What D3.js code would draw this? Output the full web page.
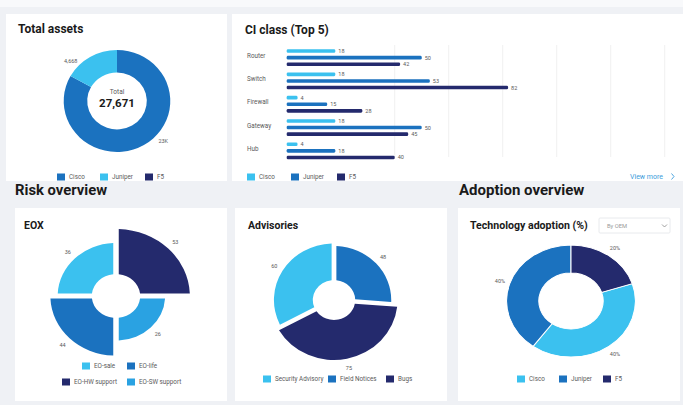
<!DOCTYPE html>
<html>
<head>
<meta charset="utf-8">
<script src="https://cdn.jsdelivr.net/npm/d3@7"></script>
<style>
body { margin: 0; background: #eff1f5; }
svg { display: block; font-family: Roboto, "Noto Sans", sans-serif; }
.title { font-weight: 700; fill: #1a1a1a; }
.lbl { fill: #5a5a5a; }
</style>
</head>
<body>
<div id="chart"></div>
<script>
// ---- data ----
var oems = ['Cisco', 'Juniper', 'F5'];
var assetValues = [23003, 4668, 0];
var assetTotal = 27671;

var ciCategories = ['Router', 'Switch', 'Firewall', 'Gateway', 'Hub'];
var ciCisco = [18, 18, 4, 18, 4];
var ciJuniper = [50, 53, 15, 50, 18];
var ciF5 = [42, 82, 28, 45, 40];

var eoxCategories = ['EO-sale', 'EO-life', 'EO-HW support', 'EO-SW support'];
var eoxValues = [36, 44, 53, 26];

var advisoryCategories = ['Security Advisory', 'Field Notices', 'Bugs'];
var advisoryValues = [60, 48, 75];

var adoptionValues = [40, 40, 20]; // Cisco, Juniper, F5 (%)

// ---- colours ----
var cyan = '#3bc1ef', blue = '#1b72bf', navy = '#242a6d', sky = '#2aa2e2';

var W = 683, H = 405;
var svg = d3.select('#chart').append('svg').attr('width', W).attr('height', H);
svg.append('rect').attr('width', W).attr('height', H).attr('fill', '#eff1f5');
svg.append('rect').attr('width', W).attr('height', 7).attr('fill', '#f8f9fb');

function panel(x, y, w, h) {
    svg.append('rect').attr('x', x).attr('y', y).attr('width', w).attr('height', h).attr('fill', '#fff');
}
function title(t, x, y, size) {
    svg.append('text').attr('class', 'title').attr('x', x).attr('y', y)
        .style('font-size', size + 'px').text(t);
}
function label(g, t, x, y, size, anchor) {
    return g.append('text').attr('class', 'lbl').attr('x', x).attr('y', y)
        .attr('text-anchor', anchor || 'middle').attr('dominant-baseline', 'central')
        .style('font-size', size + 'px').text(t);
}
// legend: names, colour scale, x of each swatch, y centre
function legend(names, color, xs, y) {
    var g = svg.append('g');
    names.forEach(function(n, i) {
        g.append('rect').attr('x', xs[i]).attr('y', y - 3.5).attr('width', 8).attr('height', 7).attr('fill', color(n));
        label(g, n, xs[i] + 12, y, 6.3, 'start');
    });
}

panel(6, 14, 221, 167);
panel(232, 14, 451, 167);
panel(15, 208, 212, 193);
panel(235, 208, 212, 193);
panel(458, 208, 222, 193);

title('Total assets', 18, 33, 12);
title('CI class (Top 5)', 245, 34, 12);
title('Risk overview', 15, 195, 14.8);
title('Adoption overview', 459, 195, 15);
title('EOX', 24, 229, 10.5);
title('Advisories', 248, 229, 10.5);
title('Technology adoption (%)', 470, 229, 10.6);

var oemColor = d3.scaleOrdinal().domain(oems).range([blue, cyan, navy]);

// ---- Total assets donut ----
(function() {
    var cx = 117, cy = 101, sx = 1.045;
    var arcs = d3.pie().sort(null).value(function(d) { return d; })(assetValues);
    var arc = d3.arc().innerRadius(28.5).outerRadius(51);
    var g = svg.append('g').attr('transform', 'translate(' + cx + ',' + cy + ')');
    g.append('g').attr('transform', 'scale(' + sx + ',1)')
        .selectAll('path').data(arcs).join('path')
        .attr('d', arc).attr('fill', function(d, i) { return oemColor(oems[i]); });
    var fmt = function(v) { return v >= 10000 ? d3.format('.2~s')(v).toUpperCase() : d3.format(',')(v); };
    arcs.forEach(function(d) {
        if (!d.value) return;
        var a = (d.startAngle + d.endAngle) / 2 - 0.3;
        label(g, fmt(d.value), Math.sin(a) * 60 * sx, -Math.cos(a) * 60, 5.5);
    });
    label(g, 'Total', 0, -9, 6.5);
    g.append('text').attr('class', 'title').attr('text-anchor', 'middle').attr('y', 6)
        .style('font-size', '11.5px').text(d3.format(',')(assetTotal));
    legend(oems, oemColor, [57, 100, 145], 177);
})();

// ---- CI class bars ----
(function() {
    var series = [ciCisco, ciJuniper, ciF5];
    var ciColor = d3.scaleOrdinal().domain(oems).range([cyan, blue, navy]);
    var x = d3.scaleLinear().domain([0, 140]).range([286.7, 664.7]);
    var y0 = d3.scaleBand().domain(ciCategories).range([49.25, 159.25]).paddingInner(0.28);
    var y1 = d3.scaleBand().domain(oems).range([0, y0.bandwidth()]).paddingInner(0.455);
    var g = svg.append('g');

    g.selectAll('line.grid').data(d3.range(40, 141, 20)).join('line')
        .attr('x1', x).attr('x2', x).attr('y1', 45).attr('y2', 157)
        .attr('stroke', '#ececec').attr('stroke-width', 0.8);

    ciCategories.forEach(function(c, ci) {
        label(g, c, 247, y0(c) + 6.5, 6.3, 'start');
        oems.forEach(function(o, si) {
            var v = series[si][ci];
            var yy = y0(c) + y1(o);
            g.append('rect').attr('x', x(0)).attr('y', yy)
                .attr('width', x(v) - x(0)).attr('height', y1.bandwidth())
                .attr('rx', 1.3).attr('fill', ciColor(o));
            label(g, v, x(v) + 3, yy + y1.bandwidth() / 2, 5.5, 'start');
        });
    });
    legend(oems, ciColor, [247, 291, 337], 177);
    svg.append('text').attr('x', 630).attr('y', 179).style('font-size', '7px').attr('fill', '#3b9cdb').text('View more');
    svg.append('path').attr('d', 'M671.5,173.5 L674,176.5 L671.5,179.5').attr('fill', 'none')
        .attr('stroke', '#3b9cdb').attr('stroke-width', 0.9);
})();

// ---- EOX polar area ----
(function() {
    var cx = 116, cy = 296, sx = 1.1;
    var clockwise = ['EO-HW support', 'EO-SW support', 'EO-life', 'EO-sale'];
    var eoxColor = d3.scaleOrdinal().domain(eoxCategories).range([cyan, blue, navy, sky]);
    var rows = eoxCategories.map(function(c, i) { return {cat: c, v: eoxValues[i]}; });
    var arcs = d3.pie().value(1).sort(function(a, b) {
        return clockwise.indexOf(a.cat) - clockwise.indexOf(b.cat);
    })(rows);
    var r = d3.scaleLinear().domain([0, 60]).range([23, 73]);
    var arc = d3.arc().innerRadius(22).outerRadius(function(d) { return r(d.data.v); })
        .padAngle(0.05).padRadius(100);
    var g = svg.append('g').attr('transform', 'translate(' + cx + ',' + cy + ')');
    g.append('g').attr('transform', 'scale(' + sx + ',1)')
        .selectAll('path').data(arcs).join('path')
        .attr('d', arc).attr('fill', function(d) { return eoxColor(d.data.cat); });
    arcs.forEach(function(d) {
        var a = (d.startAngle + d.endAngle) / 2, rr = r(d.data.v) + 9;
        label(g, d.data.v, Math.sin(a) * rr * sx, -Math.cos(a) * rr, 5.5);
    });
    legend(['EO-sale', 'EO-life'], eoxColor, [82, 127], 366);
    legend(['EO-HW support', 'EO-SW support'], eoxColor, [62, 127], 382);
})();

// ---- Advisories polar area ----
(function() {
    var cx = 334, cy = 300, sx = 1.06;
    var advColor = d3.scaleOrdinal().domain(advisoryCategories).range([cyan, blue, navy]);
    var total = d3.sum(advisoryValues);
    var start = -2 * Math.PI * advisoryValues[0] / total;
    var arcs = d3.pie().sort(null).value(function(d) { return d; })
        .startAngle(start).endAngle(start + 2 * Math.PI)(advisoryValues);
    var r = d3.scaleLinear().domain([48, 75]).range([54, 60]);
    var arc = d3.arc().innerRadius(20).outerRadius(function(d) { return r(d.value); })
        .padAngle(0.045).padRadius(100);
    var g = svg.append('g').attr('transform', 'translate(' + cx + ',' + cy + ')');
    g.append('g').attr('transform', 'scale(' + sx + ',1)')
        .selectAll('path').data(arcs).join('path')
        .attr('d', arc).attr('fill', function(d, i) { return advColor(advisoryCategories[i]); });
    arcs.forEach(function(d) {
        var a = (d.startAngle + d.endAngle) / 2, rr = r(d.value) + 9;
        label(g, d.value, Math.sin(a) * rr * sx, -Math.cos(a) * rr, 5.5);
    });
    legend(advisoryCategories, advColor, [263, 328, 386], 379);
})();

// ---- Technology adoption donut ----
(function() {
    var cx = 571, cy = 301, sx = 1.15;
    var start = 2 * Math.PI * adoptionValues[2] / d3.sum(adoptionValues);
    var arcs = d3.pie().sort(null).value(function(d) { return d; })
        .startAngle(start).endAngle(start + 2 * Math.PI)(adoptionValues);
    var arc = d3.arc().innerRadius(28).outerRadius(56);
    var adoptColor = d3.scaleOrdinal().domain(oems).range([cyan, blue, navy]);
    var g = svg.append('g').attr('transform', 'translate(' + cx + ',' + cy + ')');
    g.append('g').attr('transform', 'scale(' + sx + ',1)')
        .selectAll('path').data(arcs).join('path')
        .attr('d', arc).attr('fill', function(d, i) { return adoptColor(oems[i]); })
        .attr('stroke', '#fff').attr('stroke-width', 0.9);
    arcs.forEach(function(d) {
        var a = (d.startAngle + d.endAngle) / 2, rr = 65;
        label(g, d.value + '%', Math.sin(a) * rr * sx, -Math.cos(a) * rr, 5.5);
    });
    legend(oems, adoptColor, [517, 559, 603], 379);

    // dropdown
    svg.append('rect').attr('x', 599).attr('y', 218).attr('width', 71).attr('height', 15)
        .attr('rx', 1).attr('fill', '#fff').attr('stroke', '#e2e4e8').attr('stroke-width', 0.8);
    svg.append('text').attr('x', 607).attr('y', 227.5).style('font-size', '5.8px').attr('fill', '#9a9a9a').text('By OEM');
    svg.append('path').attr('d', 'M662,224.5 L664.5,227 L667,224.5').attr('fill', 'none')
        .attr('stroke', '#888').attr('stroke-width', 0.8);
})();
</script>
</body>
</html>
